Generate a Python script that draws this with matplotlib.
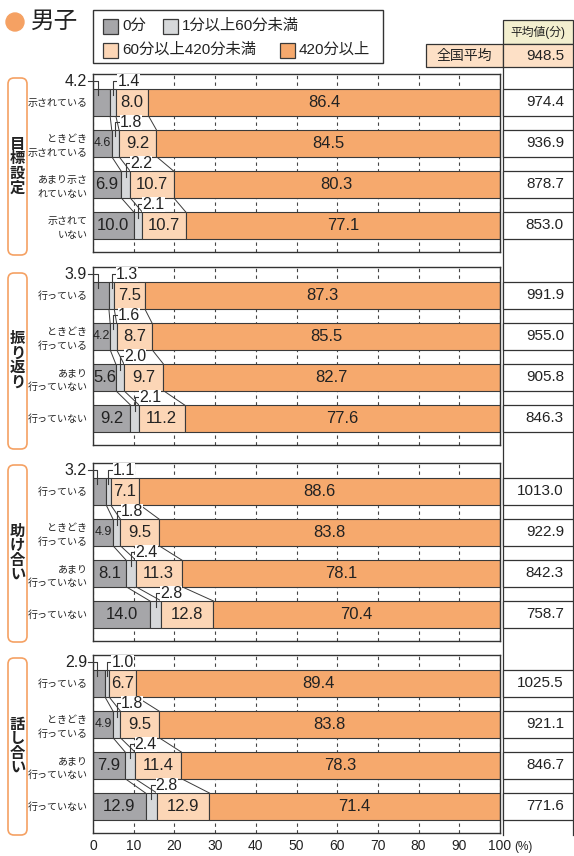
import matplotlib.pyplot as plt
from matplotlib.patches import Rectangle, FancyBboxPatch, Circle
import numpy as np

plt.rcParams['font.family'] = ['Liberation Sans', 'Noto Sans CJK JP', 'DejaVu Sans']

W, H = 574, 856

groups = ['目標設定', '振り返り', '助け合い', '話し合い']
row_labels = [
    ['示されている', 'ときどき\n示されている', 'あまり示さ\nれていない', '示されて\nいない'],
    ['行っている', 'ときどき\n行っている', 'あまり\n行っていない', '行っていない'],
    ['行っている', 'ときどき\n行っている', 'あまり\n行っていない', '行っていない'],
    ['行っている', 'ときどき\n行っている', 'あまり\n行っていない', '行っていない'],
]
categories = ['0分', '1分以上60分未満', '60分以上420分未満', '420分以上']

zero_min = [[4.2, 4.6, 6.9, 10.0], [3.9, 4.2, 5.6, 9.2], [3.2, 4.9, 8.1, 14.0], [2.9, 4.9, 7.9, 12.9]]
under_60 = [[1.4, 1.8, 2.2, 2.1], [1.3, 1.6, 2.0, 2.1], [1.1, 1.8, 2.4, 2.8], [1.0, 1.8, 2.4, 2.8]]
under_420 = [[8.0, 9.2, 10.7, 10.7], [7.5, 8.7, 9.7, 11.2], [7.1, 9.5, 11.3, 12.8], [6.7, 9.5, 11.4, 12.9]]
over_420 = [[86.4, 84.5, 80.3, 77.1], [87.3, 85.5, 82.7, 77.6], [88.6, 83.8, 78.1, 70.4], [89.4, 83.8, 78.3, 71.4]]
avg_min = [[974.4, 936.9, 878.7, 853.0], [991.9, 955.0, 905.8, 846.3],
           [1013.0, 922.9, 842.3, 758.7], [1025.5, 921.1, 846.7, 771.6]]
national_avg = 948.5

colors = ['#a6a6a9', '#d6d8da', '#fcd6b6', '#f6a96d']
edge = '#3a3a3a'
txt = '#222222'
orange = '#f5a163'

fig = plt.figure(figsize=(W / 100, H / 100), dpi=100)


def px_axes(x0, y0, w, h):
    return fig.add_axes([x0 / W, 1 - (y0 + h) / H, w / W, h / H])


# overlay in pixel coords for title, legend, headers, boxes
ov = px_axes(0, 0, W, H)
ov.set_xlim(0, W)
ov.set_ylim(H, 0)
ov.axis('off')

ov.add_patch(Circle((15, 22), 9, color=orange))
ov.text(31, 22, '男子', fontsize=17, va='center', ha='left', color=txt)

# legend
ov.add_patch(Rectangle((93, 10), 290, 53, fill=False, ec='#333', lw=1))
leg_pos = [(103, 26), (163, 26), (103, 50), (280, 50)]
for (lx, ly), lab, c in zip(leg_pos, categories, colors):
    ov.add_patch(Rectangle((lx, ly - 7.5), 15, 15, fc=c, ec=edge, lw=0.9))
    ov.text(lx + 19, ly, lab, fontsize=11, va='center', ha='left', color=txt)

# right column header
ov.add_patch(Rectangle((503, 20), 70, 24, fc='#f3efcf', ec='#333', lw=0.9))
ov.text(538, 32, '平均値(分)', fontsize=8.5, va='center', ha='center', color=txt)
ov.add_patch(Rectangle((426, 44), 77, 23, fc='#fde0c6', ec='#333', lw=0.9))
ov.text(464, 55.5, '全国平均', fontsize=10, va='center', ha='center', color=txt)
ov.add_patch(Rectangle((503, 44), 70, 23, fc='#fde0c6', ec='#333', lw=0.9))
ov.text(564, 55.5, f'{national_avg:.1f}', fontsize=11, va='center', ha='right', color=txt)
ov.plot([503, 503], [67, 835], color='#333', lw=0.9)
ov.plot([573, 573], [67, 835], color='#333', lw=0.9)
ov.text(514, 847, '(%)', fontsize=8.5, va='center', ha='left', color=txt)

panel_tops = [74, 267, 463, 655]
box_spans = [(78, 255), (273, 449), (465, 642), (658, 835)]
PH = 178
BH = 0.65
y0, y1 = -0.69, 3.65

for g in range(4):
    bt, bb = box_spans[g]
    ov.add_patch(FancyBboxPatch((8, bt), 19, bb - bt, boxstyle='round,pad=0,rounding_size=6',
                                fc='white', ec=orange, lw=1.2))
    ov.text(17.5, (bt + bb) / 2, '\n'.join(groups[g]), fontsize=11, fontweight='bold',
            ha='center', va='center', linespacing=1.05, color=txt)

    top = panel_tops[g]
    ax = px_axes(93, top, 407, PH)
    y = np.arange(4)
    segs = [zero_min[g], under_60[g], under_420[g], over_420[g]]
    left = np.zeros(4)
    cums = [left.copy()]
    for k in range(4):
        ax.barh(y, segs[k], left=left, height=BH, color=colors[k], edgecolor=edge,
                linewidth=0.8, zorder=2)
        left = left + np.array(segs[k])
        cums.append(left.copy())
    ax.set_xlim(0, 100)
    ax.set_ylim(y1, y0)

    # connecting lines between bars
    for i in range(3):
        for k in (1, 2, 3):
            ax.plot([cums[k][i], cums[k][i + 1]], [i + BH / 2, i + 1 - BH / 2],
                    color=edge, lw=0.7, zorder=1.5)

    for i in range(4):
        # peach and orange labels
        ax.text((cums[2][i] + cums[3][i]) / 2, i, f'{under_420[g][i]:.1f}', fontsize=12,
                ha='center', va='center', color=txt, zorder=5)
        ax.text((cums[3][i] + 100) / 2, i, f'{over_420[g][i]:.1f}', fontsize=12,
                ha='center', va='center', color=txt, zorder=5)
        ylab = i - BH / 2 - 0.19
        ybar = i - BH / 2 + 0.15
        # gray label
        gv = zero_min[g][i]
        if i == 0:
            xg = gv * 0.3
            ax.plot([-1.3, xg, xg], [ylab, ylab, ybar], color=edge, lw=0.8,
                    clip_on=False, zorder=4)
            ax.text(-1.5, ylab, f'{gv:.1f}', fontsize=11.5, ha='right', va='center',
                    color=txt, zorder=5)
        else:
            ax.text(gv / 2, i, f'{gv:.1f}', fontsize=12 if gv >= 5 else 9,
                    ha='center', va='center', color=txt, zorder=5)
        # light gray label
        xc = (cums[1][i] + cums[2][i]) / 2
        ax.plot([xc, xc, xc + 1.0], [ybar, ylab, ylab], color=edge, lw=0.8, zorder=4)
        ax.text(xc + 1.1, ylab, f'{under_60[g][i]:.1f}', fontsize=11.5, ha='left',
                va='center', color=txt, zorder=5,
                bbox=dict(fc='white', ec='none', pad=0))

    ax.set_xticks(range(0, 101, 10))
    ax.grid(axis='x', ls=(0, (3, 3)), color='#444', lw=0.8)
    ax.grid(axis='y', visible=False)
    ax.set_axisbelow(True)
    ax.set_yticks(y)
    ax.set_yticklabels(row_labels[g], fontsize=7.2, color=txt, linespacing=1.4)
    ax.tick_params(axis='y', length=0, pad=4)
    if g == 3:
        ax.set_xticklabels([str(v) for v in range(0, 101, 10)], fontsize=10, color=txt)
        ax.tick_params(axis='x', length=0, pad=4)
    else:
        ax.tick_params(axis='x', length=0, labelbottom=False)
    for s in ax.spines.values():
        s.set_color('#333')
        s.set_linewidth(1.0)

    # right table of averages
    tb = px_axes(503, top, 70, PH)
    tb.barh(y, 70, left=0, height=BH, color='white', edgecolor='#333', linewidth=0.9,
            clip_on=False)
    tb.set_xlim(0, 70)
    tb.set_ylim(y1, y0)
    tb.axis('off')
    for i in range(4):
        tb.text(61, i, f'{avg_min[g][i]:.1f}', fontsize=11, ha='right', va='center', color=txt)

fig.savefig('out.png', dpi=100)
